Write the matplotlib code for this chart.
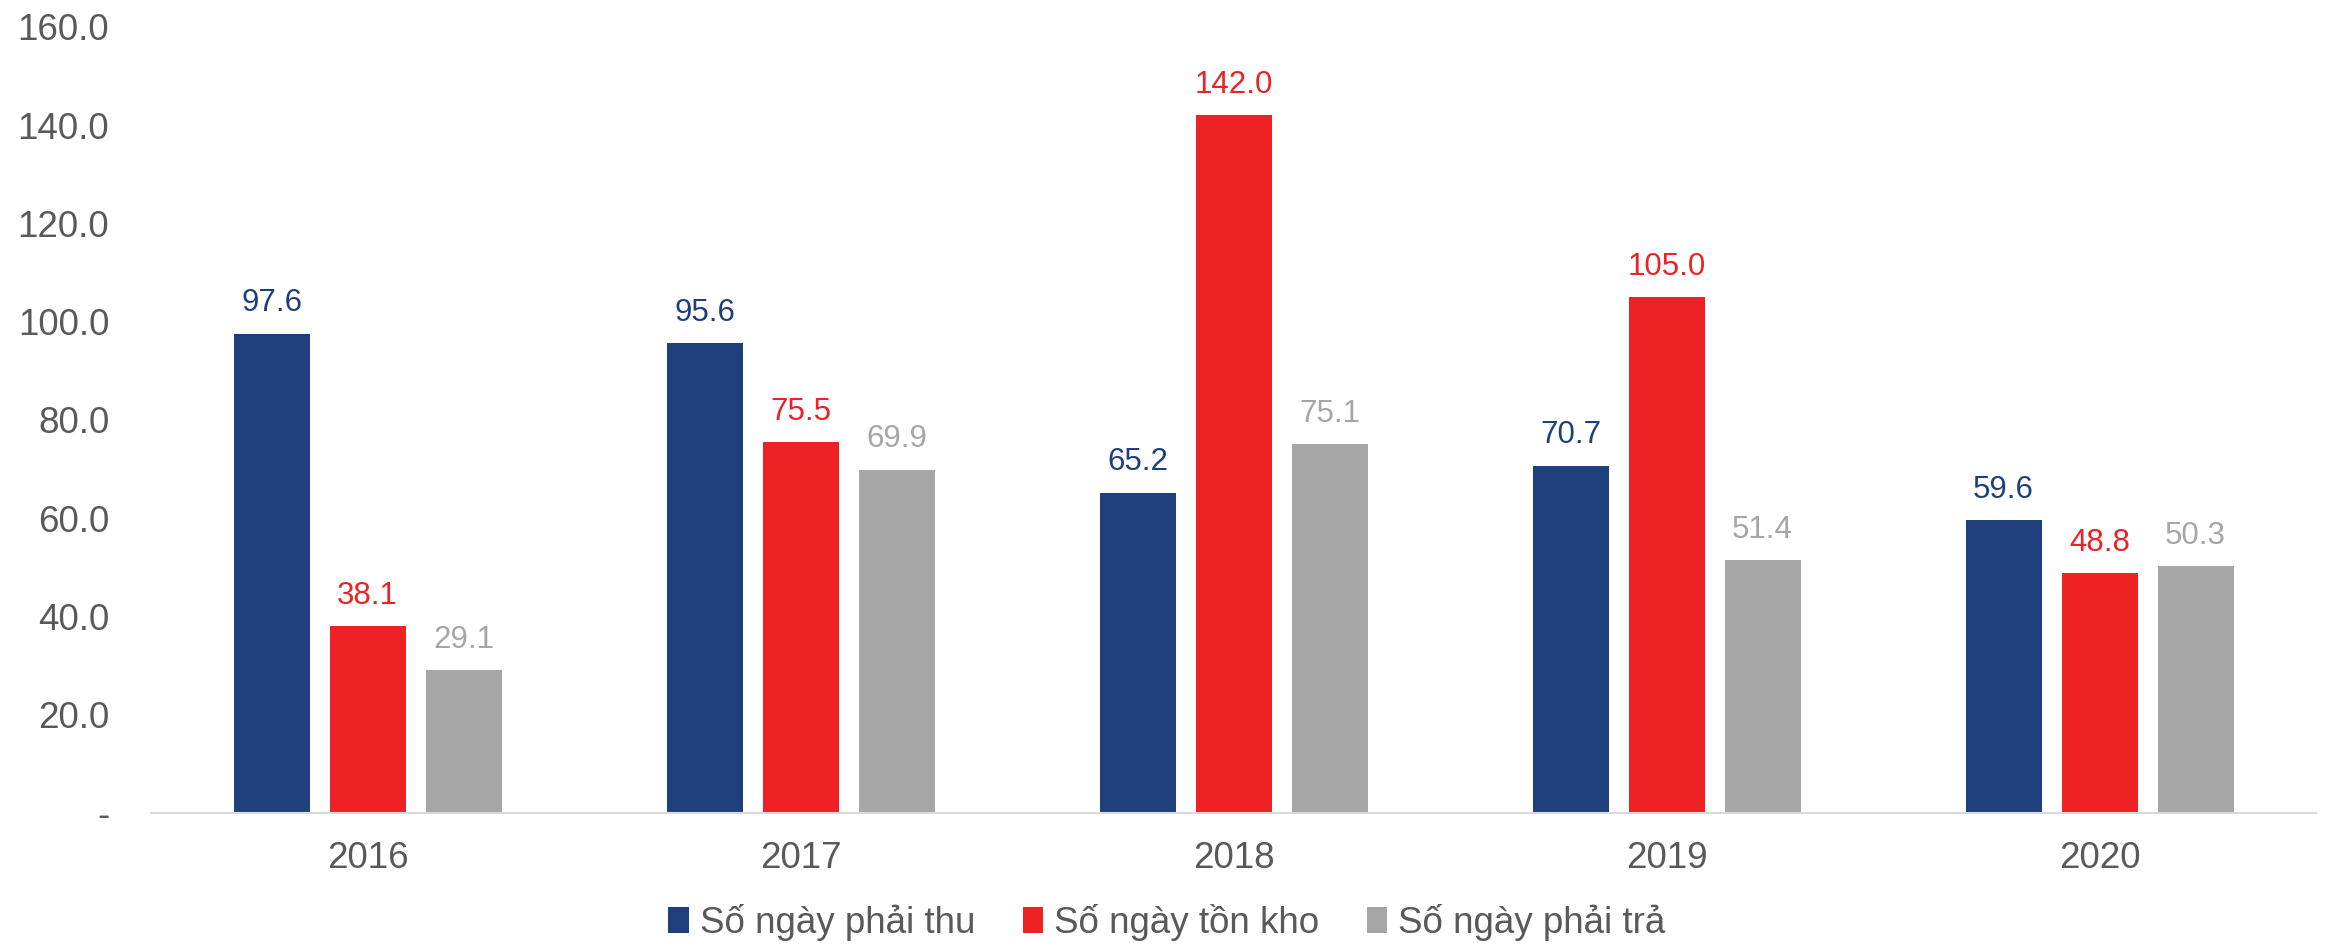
"""
Grouped bar chart of receivable, inventory and payable days, 2016-2020
"""
import numpy as np
import matplotlib.pyplot as plt

plt.rcParams['font.family'] = ['Liberation Sans', 'DejaVu Sans']

years = ['2016', '2017', '2018', '2019', '2020']
series_names = ['Số ngày phải thu', 'Số ngày tồn kho', 'Số ngày phải trả']
receivable_days = [97.6, 95.6, 65.2, 70.7, 59.6]
inventory_days = [38.1, 75.5, 142.0, 105.0, 48.8]
payable_days = [29.1, 69.9, 75.1, 51.4, 50.3]
y_ticks = [0, 20, 40, 60, 80, 100, 120, 140, 160]

colors = ['#1F3F7C', '#EE2124', '#A6A6A6']
text_grey = '#595959'

fig = plt.figure(figsize=(23.34, 9.47), dpi=100)
ax = fig.add_axes([0.0647, 0.1415, 0.9276, 0.83])

x = np.arange(len(years))
width = 0.1755
step = 0.2217

for i, (name, values, color) in enumerate(zip(series_names,
                                              [receivable_days, inventory_days, payable_days],
                                              colors)):
    pos = x + (i - 1) * step
    bars = ax.bar(pos, values, width=width, color=color, label=name)
    for b, v in zip(bars, values):
        ax.annotate(f'{v:.1f}', (b.get_x() + b.get_width() / 2, v),
                    xytext=(0, 11), textcoords='offset points',
                    ha='center', va='bottom', fontsize=22.5, color=color)

ax.set_xlim(-0.5, len(years) - 0.5)
ax.set_ylim(0, 160)
ax.set_xticks(x)
ax.set_xticklabels(years)
ax.set_yticks(y_ticks)
ax.set_yticklabels(['-' if t == 0 else f'{t:.1f}' for t in y_ticks])

ax.tick_params(axis='both', length=0, labelsize=26.5, colors=text_grey)
ax.tick_params(axis='x', pad=20)
ax.tick_params(axis='y', pad=30)

for side in ['top', 'right', 'left']:
    ax.spines[side].set_visible(False)
ax.spines['bottom'].set_color('#D9D9D9')
ax.spines['bottom'].set_linewidth(1.5)

leg = fig.legend(loc='center', bbox_to_anchor=(0.5, 0.026), ncol=3, frameon=False,
                 fontsize=26.5, handlelength=0.55, handleheight=0.7, handletextpad=0.3,
                 columnspacing=1.3)
for t in leg.get_texts():
    t.set_color(text_grey)

plt.savefig('out.png', dpi=100)
